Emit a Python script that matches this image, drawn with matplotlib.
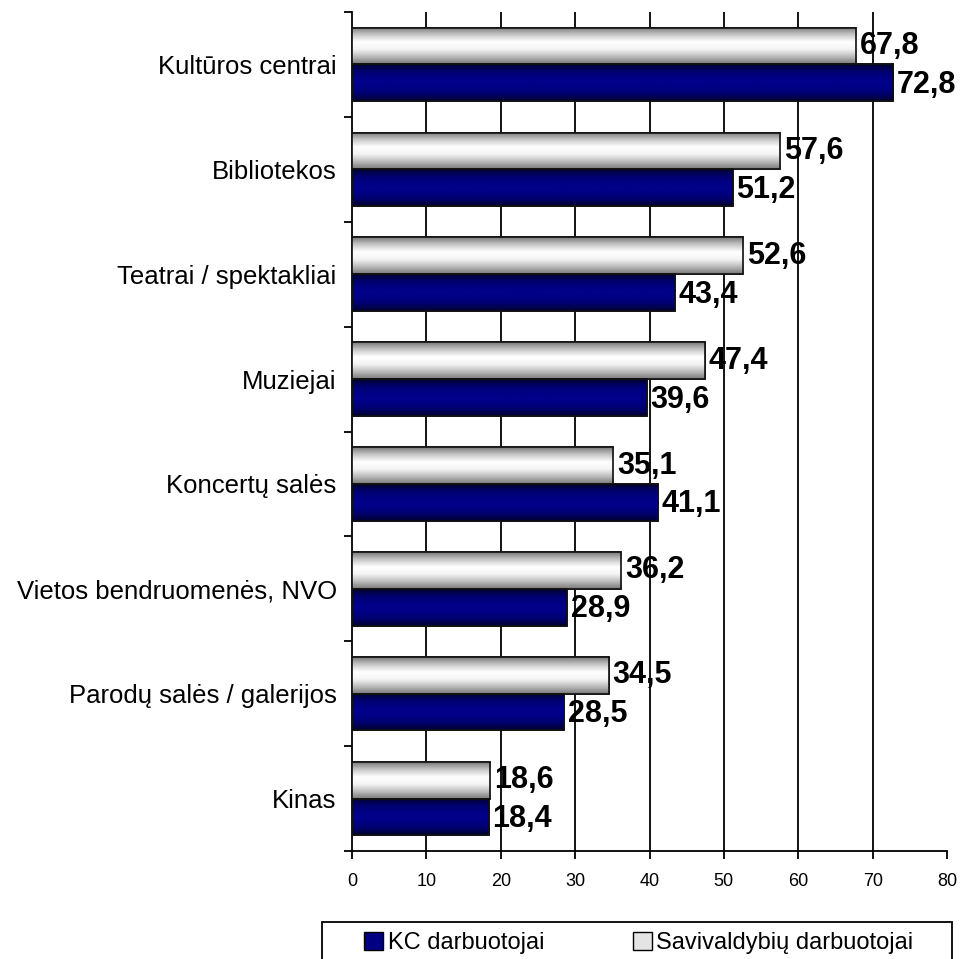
import matplotlib
matplotlib.use("Agg")
import matplotlib.pyplot as plt
import numpy as np
from matplotlib.colors import LinearSegmentedColormap
from matplotlib.patches import Patch, Rectangle

plt.rcParams['font.family'] = ['Liberation Sans', 'DejaVu Sans']

categories = ["Kultūros centrai", "Bibliotekos", "Teatrai / spektakliai", "Muziejai",
              "Koncertų salės", "Vietos bendruomenės, NVO", "Parodų salės / galerijos", "Kinas"]
kc_values = [72.8, 51.2, 43.4, 39.6, 41.1, 28.9, 28.5, 18.4]
sav_values = [67.8, 57.6, 52.6, 47.4, 35.1, 36.2, 34.5, 18.6]
series_names = ["KC darbuotojai", "Savivaldybių darbuotojai"]
x_ticks = [0, 10, 20, 30, 40, 50, 60, 70, 80]

W, H = 961, 959
fig = plt.figure(figsize=(W / 100, H / 100), dpi=100)
ax = fig.add_axes([352 / W, 1 - 851 / H, (947 - 352) / W, (851 - 12) / H])

n = len(categories)
centers = np.arange(n) + 0.5
h = 0.35

sav_bars = ax.barh(centers - h / 2, sav_values, height=h, color='#d0d0d0',
                   edgecolor='#202020', linewidth=1.2, zorder=3)
kc_bars = ax.barh(centers + h / 2, kc_values, height=h, color='#000080',
                  edgecolor='#101010', linewidth=1.2, zorder=3)

cmap_gray = LinearSegmentedColormap.from_list('g', ['#7a7a7a', '#c8c8c8', '#ffffff', '#f4f4f4', '#bcbcbc', '#7a7a7a'])
cmap_blue = LinearSegmentedColormap.from_list('b', ['#000030', '#000070', '#000088', '#000088', '#000070', '#000030'])
grad = np.linspace(0, 1, 64).reshape(-1, 1)
for bars, cm in ((sav_bars, cmap_gray), (kc_bars, cmap_blue)):
    for p in bars:
        x0, y0 = p.get_x(), p.get_y()
        w, hh = p.get_width(), p.get_height()
        im = ax.imshow(grad, cmap=cm, aspect='auto', extent=(x0, x0 + w, y0 + hh, y0),
                       zorder=3.5, interpolation='bilinear')
        im.set_clip_path(p)
    for p in bars:
        ov = Rectangle((p.get_x(), p.get_y()), p.get_width(), p.get_height(),
                       fill=False, edgecolor='#101010', linewidth=1.2, zorder=4)
        ax.add_patch(ov)

def fmt(v):
    return f"{v:.1f}".replace('.', ',')

for p, v in zip(sav_bars, sav_values):
    ax.text(v + 0.5, p.get_y() + p.get_height() / 2, fmt(v), ha='left', va='center',
            fontsize=22, fontweight='bold', zorder=6)
for p, v in zip(kc_bars, kc_values):
    ax.text(v + 0.5, p.get_y() + p.get_height() / 2 + 0.02, fmt(v), ha='left', va='center',
            fontsize=22, fontweight='bold', zorder=6)

ax.set_xlim(0, 80)
ax.set_ylim(n, 0)

for xv in x_ticks[1:-1]:
    ax.axvline(xv, color='black', linewidth=1.3, zorder=1)

ax.set_xticks(x_ticks)
ax.set_xticklabels([str(t) for t in x_ticks], fontsize=13)
ax.set_yticks(np.arange(n + 1))
ax.set_yticklabels([])
ax.set_yticks(centers, minor=True)
ax.set_yticklabels(categories, minor=True, fontsize=18.5)
ax.tick_params(axis='y', which='minor', length=0, pad=11)
ax.tick_params(axis='y', which='major', length=6, width=1.3, direction='out')
ax.tick_params(axis='x', length=6, width=1.3, direction='out', pad=10)

for s in ('top', 'right'):
    ax.spines[s].set_visible(False)
for s in ('left', 'bottom'):
    ax.spines[s].set_linewidth(1.3)

# legend frame (bottom edge falls outside the picture, as in the reference)
fig.add_artist(Rectangle((322 / W, -0.05), (952 - 322) / W, 0.05 + 1 - 922 / H,
                         transform=fig.transFigure, fill=False, edgecolor='black',
                         linewidth=1.3))
handles = [Patch(facecolor='#000080', edgecolor='black', label=series_names[0]),
           Patch(facecolor='#e4e4e4', edgecolor='black', label=series_names[1])]
leg = fig.legend(handles=handles, loc='center left', bbox_to_anchor=(364 / W, 1 - 943 / H),
                 ncol=2, fontsize=17, frameon=False, handlelength=0.8, handleheight=0.8,
                 handletextpad=0.2, borderaxespad=0, borderpad=0, columnspacing=3.75)

fig.savefig('out.png', dpi=100)
